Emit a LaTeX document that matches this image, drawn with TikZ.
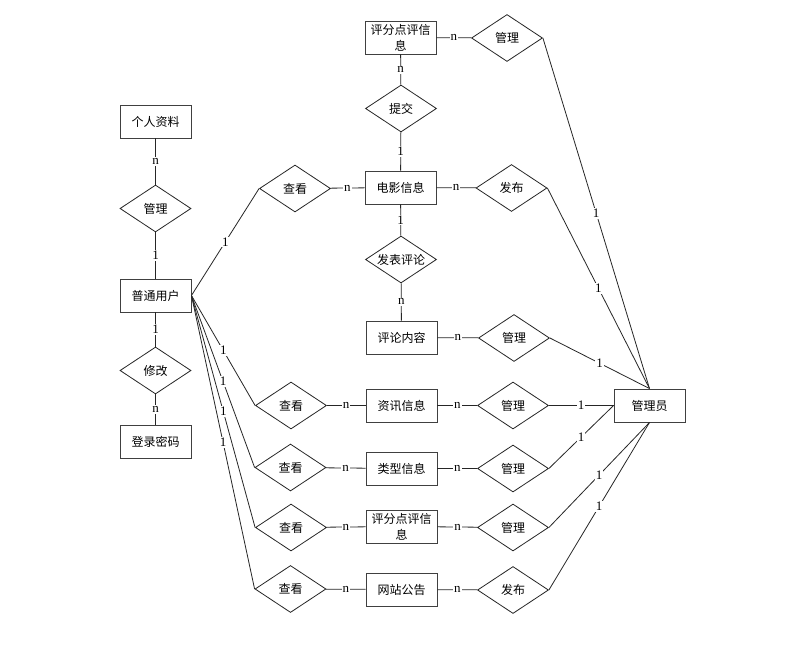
\documentclass[tikz,border=0pt]{standalone}
\usepackage{fontspec}
\setmainfont{Liberation Serif}
\newfontfamily\cjk{Noto Sans CJK SC}
\usetikzlibrary{shapes.geometric}
\begin{document}
\begin{tikzpicture}[x=1pt,y=-1pt,
  line/.style={draw=black!85, line width=0.8pt},
  ent/.style={rectangle, draw=black!75, line width=0.9pt, minimum width=71pt, minimum height=33pt, inner sep=0pt, align=center,
     font=\cjk\fontsize{12pt}{16pt}\selectfont},
  rel/.style={diamond, draw=black!85, line width=0.8pt, minimum width=71pt, minimum height=47pt, inner sep=0pt, aspect=1.5,
     font=\cjk\fontsize{12pt}{14pt}\selectfont},
  lab/.style={fill=white, inner sep=1pt, font=\fontsize{13pt}{13pt}\selectfont}]
\useasboundingbox (0,0) rectangle (789,647);
\fill[white] (0,0) rectangle (789,647);
% left column
\node[ent] (p1) at (155.5,121.5) {个人资料};
\node[rel] (d1) at (155.5,208.5) {管理};
\node[ent] (user) at (155.5,295.5) {普通用户};
\node[rel] (d2) at (155.5,370.5) {修改};
\node[ent] (pwd) at (155.5,441.5) {登录密码};
% middle column
\node[ent] (pf1) at (400.5,37.5) {评分点评信\\息};
\node[rel] (tj) at (401,108.5) {提交};
\node[ent] (movie) at (400.5,187.5) {电影信息};
\node[rel] (fbpl) at (401,259.5) {发表评论};
\node[ent] (pl) at (401.5,337.5) {评论内容};
\node[ent] (zx) at (401.5,405.5) {资讯信息};
\node[ent] (lx) at (401.5,468.5) {类型信息};
\node[ent] (pf2) at (401.5,526.5) {评分点评信\\息};
\node[ent] (gg) at (401.5,589.5) {网站公告};
% view diamonds
\node[rel] (ck1) at (295,188.5) {查看};
\node[rel] (ck2) at (291,405.5) {查看};
\node[rel] (ck3) at (290.5,467.5) {查看};
\node[rel] (ck4) at (291,527.5) {查看};
\node[rel] (ck5) at (290.5,589) {查看};
% right diamonds
\node[rel] (gl1) at (507,38) {管理};
\node[rel] (fb1) at (511.5,188) {发布};
\node[rel] (gl2) at (514,338) {管理};
\node[rel] (gl3) at (513,405.5) {管理};
\node[rel] (gl4) at (513,468.5) {管理};
\node[rel] (gl5) at (513,527.5) {管理};
\node[rel] (fb2) at (513,590) {发布};
\node[ent] (admin) at (649.5,405.5) {管理员};
% left column edges
\draw[line] (p1) -- node[lab]{n} (d1);
\draw[line] (d1) -- node[lab]{1} (user);
\draw[line] (user) -- node[lab]{1} (d2);
\draw[line] (d2) -- node[lab]{n} (pwd);
% user to views
\draw[line] (user.east) -- node[lab]{1} (ck1.west);
\draw[line] (user.east) -- node[lab]{1} (ck2.west);
\draw[line] (user.east) -- node[lab]{1} (ck3.west);
\draw[line] (user.east) -- node[lab]{1} (ck4.west);
\draw[line] (user.east) -- node[lab]{1} (ck5.west);
% views to entities
\draw[line] (ck1) -- node[lab]{n} (movie);
\draw[line] (ck2) -- node[lab]{n} (zx);
\draw[line] (ck3) -- node[lab]{n} (lx);
\draw[line] (ck4) -- node[lab]{n} (pf2);
\draw[line] (ck5) -- node[lab]{n} (gg);
% middle vertical
\draw[line] (pf1) -- node[lab]{n} (tj);
\draw[line] (tj) -- node[lab]{1} (movie);
\draw[line] (movie) -- node[lab]{1} (fbpl);
\draw[line] (fbpl) -- node[lab]{n} (pl);
% entities to right diamonds
\draw[line] (pf1) -- node[lab]{n} (gl1);
\draw[line] (movie) -- node[lab]{n} (fb1);
\draw[line] (pl) -- node[lab]{n} (gl2);
\draw[line] (zx) -- node[lab]{n} (gl3);
\draw[line] (lx) -- node[lab]{n} (gl4);
\draw[line] (pf2) -- node[lab]{n} (gl5);
\draw[line] (gg) -- node[lab]{n} (fb2);
% right diamonds to admin
\draw[line] (gl1.east) -- node[lab]{1} (admin.north);
\draw[line] (fb1.east) -- node[lab]{1} (admin.north);
\draw[line] (gl2.east) -- node[lab]{1} (admin.north);
\draw[line] (gl3.east) -- node[lab]{1} (admin.west);
\draw[line] (gl4.east) -- node[lab]{1} (admin.west);
\draw[line] (gl5.east) -- node[lab]{1} (admin.south);
\draw[line] (fb2.east) -- node[lab]{1} (admin.south);
\end{tikzpicture}
\end{document}
